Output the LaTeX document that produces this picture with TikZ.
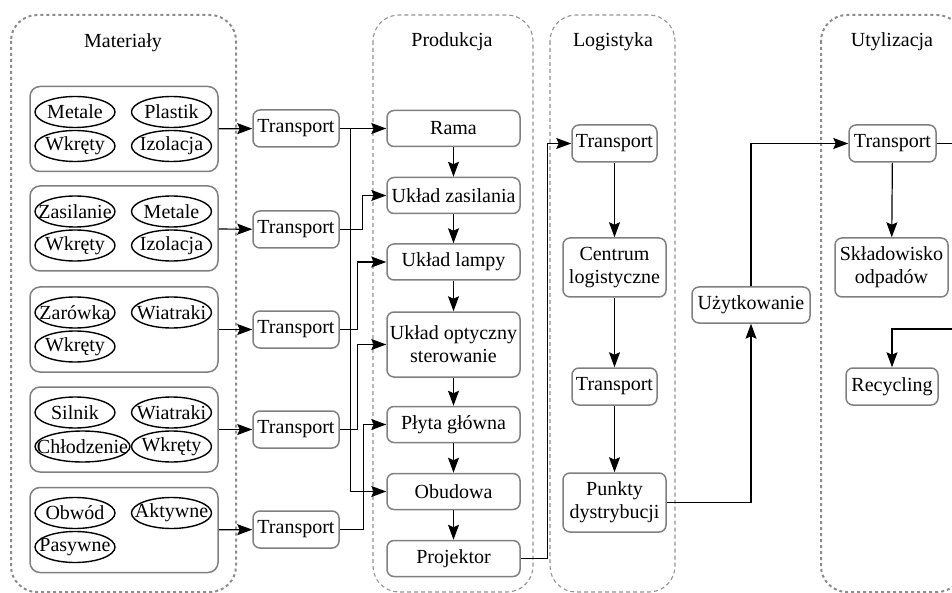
\documentclass[tikz,border=0pt]{standalone}
\usepackage{fontspec}
\setmainfont{Liberation Serif}
\usetikzlibrary{arrows.meta,shapes.geometric,calc}
\begin{document}
\begin{tikzpicture}[x=1pt,y=-1pt,
  every node/.style={font=\fontsize{20}{23}\selectfont, text=black},
  clustera/.style={draw=gray!85, rounded corners=26pt, dash pattern=on 4pt off 3pt, line width=1.1pt},
  clusterb/.style={draw=gray!90, rounded corners=26pt, dash pattern=on 3pt off 3pt, line width=2pt},
  box/.style={draw=gray, line width=1.5pt, rounded corners=7pt, inner sep=1pt, align=center},
  matbox/.style={draw=gray, line width=1.5pt, rounded corners=10pt, minimum width=188pt, minimum height=85pt},
  mat/.style={draw=black, ellipse, line width=1.4pt, minimum width=80pt, minimum height=31pt, inner sep=0pt},
  arr/.style={line width=1.2pt, -{Stealth[length=15pt,width=11pt,inset=2.5pt]}},
  ln/.style={line width=1.2pt},
]
\useasboundingbox (0,0) rectangle (952,593);
\clip (0,0) rectangle (952,593);
\fill[white] (0,0) rectangle (952,593);

% clusters
\draw[clusterb] (11,15) rectangle (236,592);
\draw[clustera] (373,15) rectangle (533,592);
\draw[clustera] (550,15) rectangle (675,592);
\draw[clusterb] (821,15) rectangle (963,592);

\node (tmat) at (123,43) {Materiały};
\node (tprod) at (452,42) {Produkcja};
\node (tlog) at (613,42) {Logistyka};
\node (tuty) at (892,42) {Utylizacja};

% material boxes
\node[matbox] (mb1) at (124,129) {};
\node[matbox] (mb2) at (124,228.5) {};
\node[matbox] (mb3) at (124,329.5) {};
\node[matbox] (mb4) at (124,429.5) {};
\node[matbox] (mb5) at (124,530) {};

\node[mat, label=center:Metale] (e11) at (75,112) {};
\node[mat, label=center:Plastik] (e12) at (171.5,112) {};
\node[mat, label=center:Wkręty] (e13) at (75,146) {};
\node[mat, label=center:Izolacja] (e14) at (171.5,146) {};

\node[mat, label=center:Zasilanie] (e21) at (75,211.5) {};
\node[mat, label=center:Metale] (e22) at (171.5,211.5) {};
\node[mat, label=center:Wkręty] (e23) at (75,245.5) {};
\node[mat, label=center:Izolacja] (e24) at (171.5,245.5) {};

\node[mat, label=center:Zarówka] (e31) at (75,312.5) {};
\node[mat, label=center:Wiatraki] (e32) at (171.5,312.5) {};
\node[mat, label=center:Wkręty] (e33) at (75,346.5) {};

\node[mat, label=center:Silnik] (e41) at (75,412.5) {};
\node[mat, label=center:Wiatraki] (e42) at (171.5,412.5) {};
\node[mat, minimum width=95pt, label=center:Chłodzenie] (e43) at (82.5,446.5) {};
\node[mat, label=center:Wkręty] (e44) at (171.5,446.5) {};

\node[mat, label=center:Obwód] (e51) at (75,513) {};
\node[mat, label=center:Aktywne] (e52) at (171.5,513) {};
\node[mat, label=center:Pasywne] (e53) at (75,547) {};

% transport nodes
\foreach \i/\y in {1/128.5,2/229.5,3/329.5,4/429.5,5/529.5}
  \node[box, minimum width=86pt, minimum height=37pt] (t\i) at (296,\y) {Transport};

% production
\tikzset{prod/.style={box, minimum width=133pt, minimum height=36pt}}
\node[prod] (rama) at (453.5,128.5) {Rama};
\node[prod] (uz) at (453.5,195.5) {Układ zasilania};
\node[prod] (ul) at (453.5,262) {Układ lampy};
\node[prod, minimum height=65pt] (uo) at (453.5,344.5) {Układ optyczny\\sterowanie};
\node[prod] (pg) at (453.5,424.5) {Płyta główna};
\node[prod] (ob) at (453.5,491.5) {Obudowa};
\node[prod] (proj) at (453.5,558.5) {Projektor};

% logistics
\node[box, minimum width=85pt, minimum height=37pt] (lt1) at (614.5,143.5) {Transport};
\node[box, minimum width=103pt, minimum height=59pt] (cl) at (614.5,267.5) {Centrum\\logistyczne};
\node[box, minimum width=85pt, minimum height=37pt] (lt2) at (614.5,386.5) {Transport};
\node[box, minimum width=103pt, minimum height=59pt] (pd) at (614.5,502.5) {Punkty\\dystrybucji};

\node[box, minimum width=118pt, minimum height=36pt] (uzyt) at (751,305) {Użytkowanie};

% utylizacja
\node[box, minimum width=87pt, minimum height=37pt] (ut) at (892.5,143.5) {Transport};
\node[box, minimum width=113pt, minimum height=59pt] (skl) at (891.5,267.5) {Składowisko\\odpadów};
\node[box, minimum width=92pt, minimum height=37pt] (rec) at (892,386.5) {Recycling};
\coordinate (offa) at (970,143.5);
\coordinate (offb) at (970,329);

% edges materials -> transport
\foreach \i in {1,...,5} \draw[arr] (mb\i) -- (t\i);

\draw[arr] (t1) -- (rama);
\draw[arr] (t1.east) -- ++(11,0) |- (ob.west);
\draw[arr] (t2.east) -- ++(23,0) |- (uz.west);
\draw[arr] (t3.east) -- ++(18,0) |- (ul.west);
\draw[arr] (t4.east) -- ++(18,0) |- (uo.west);
\draw[arr] (t5.east) -- ++(24,0) |- (pg.west);

\draw[arr] (rama) -- (uz);
\draw[arr] (uz) -- (ul);
\draw[arr] (ul) -- (uo);
\draw[arr] (uo) -- (pg);
\draw[arr] (pg) -- (ob);
\draw[arr] (ob) -- (proj);

\draw[arr] (proj.east) -- ++(27,0) |- (lt1.west);
\draw[arr] (lt1) -- (cl);
\draw[arr] (cl) -- (lt2);
\draw[arr] (lt2) -- (pd);
\draw[arr] (pd.east) -| (uzyt.south);
\draw[arr] (uzyt.north) |- (ut.west);
\draw[arr] (ut) -- (skl);
\draw[ln] (ut.east) -- (offa);
\draw[arr] (offb) -| (rec.north);
\end{tikzpicture}
\end{document}
